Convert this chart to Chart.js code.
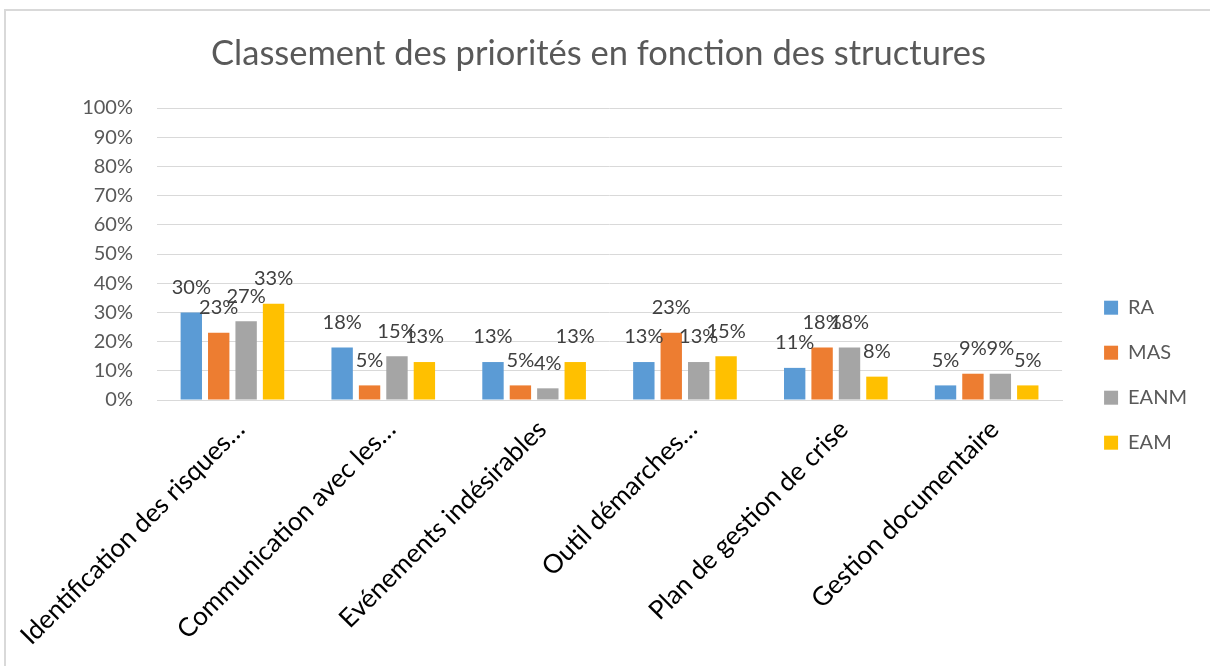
<!DOCTYPE html>
<html lang="fr">
<head>
<meta charset="utf-8">
<title>Classement des priorités</title>
<script src="https://cdn.jsdelivr.net/npm/chart.js@4/dist/chart.umd.min.js"></script>
<style>
  html, body { margin: 0; padding: 0; background: #fff; }
  #wrap { position: relative; width: 1210px; height: 666px; overflow: hidden; }
  #frame {
    position: absolute; left: 4px; top: 9px; width: 1300px; height: 800px;
    border-top: 2px solid #d9d9d9; border-left: 2px solid #d9d9d9;
  }
  #chart { position: absolute; left: 0; top: 0; }
</style>
</head>
<body>
<div id="wrap">
  <div id="frame"></div>
  <canvas id="chart" width="1210" height="666"></canvas>
</div>
<script>
const categories = [
  'Identification des risques…',
  'Communication avec les…',
  'Evénements indésirables',
  'Outil démarches…',
  'Plan de gestion de crise',
  'Gestion documentaire'
];
const seriesNames = ['RA', 'MAS', 'EANM', 'EAM'];
const ra   = [30, 18, 13, 13, 11, 5];
const mas  = [23, 5, 5, 23, 18, 9];
const eanm = [27, 15, 4, 13, 18, 9];
const eam  = [33, 13, 13, 15, 8, 5];
const colors = ['#5B9BD5', '#ED7D31', '#A5A5A5', '#FFC000'];

const FONT = 'Lato, "Open Sans", sans-serif';

// value labels above each bar
const barValues = {
  id: 'barValues',
  afterDatasetsDraw(chart) {
    const ctx = chart.ctx;
    ctx.save();
    ctx.font = '20px ' + FONT;
    ctx.fillStyle = '#404040';
    ctx.textAlign = 'center';
    ctx.textBaseline = 'middle';
    chart.data.datasets.forEach((ds, i) => {
      chart.getDatasetMeta(i).data.forEach((bar, j) => {
        ctx.fillText(ds.data[j] + '%', bar.x, bar.y - 25);
      });
    });
    ctx.restore();
  }
};

const datasets = [ra, mas, eanm, eam].map((values, i) => ({
  label: seriesNames[i],
  data: values,
  backgroundColor: colors[i],
  categoryPercentage: 0.727,
  barPercentage: 0.78
}));

new Chart(document.getElementById('chart'), {
  type: 'bar',
  data: { labels: categories, datasets: datasets },
  options: {
    responsive: false,
    animation: false,
    layout: { padding: { left: 0, right: 13, top: 0, bottom: 0 } },
    plugins: {
      title: {
        display: true,
        text: 'Classement des priorités en fonction des structures',
        color: '#595959',
        font: { family: FONT, size: 34.5, weight: 'normal' },
        padding: { top: 33, bottom: 33.6 }
      },
      legend: {
        position: 'right',
        title: { display: true, text: '', font: { size: 12 }, padding: { top: 70, bottom: 0 } },
        labels: {
          boxWidth: 14,
          boxHeight: 14,
          padding: 25,
          color: '#595959',
          font: { family: FONT, size: 20 }
        }
      },
      tooltip: { enabled: false }
    },
    scales: {
      x: {
        grid: { display: false },
        border: { color: '#d9d9d9' },
        ticks: {
          autoSkip: false,
          maxRotation: 45,
          minRotation: 45,
          labelOffset: 8,
          padding: 6,
          color: '#000',
          font: { family: FONT, size: 26 }
        },
        afterFit(scale) {
          scale.height = 266;
          scale.paddingLeft = 0;
          scale.paddingRight = 0;
        }
      },
      y: {
        min: 0,
        max: 100,
        border: { display: false },
        grid: { color: '#d9d9d9', drawTicks: false },
        ticks: {
          stepSize: 10,
          padding: 24,
          color: '#595959',
          font: { family: FONT, size: 20 },
          callback: v => v + '%'
        },
        afterFit(scale) { scale.width = 157; }
      },
      gap: {
        type: 'linear',
        position: 'right',
        display: true,
        grid: { display: false },
        border: { display: false },
        ticks: { display: false },
        afterFit(scale) { scale.width = 17; }
      }
    }
  },
  plugins: [barValues]
});
</script>
</body>
</html>
